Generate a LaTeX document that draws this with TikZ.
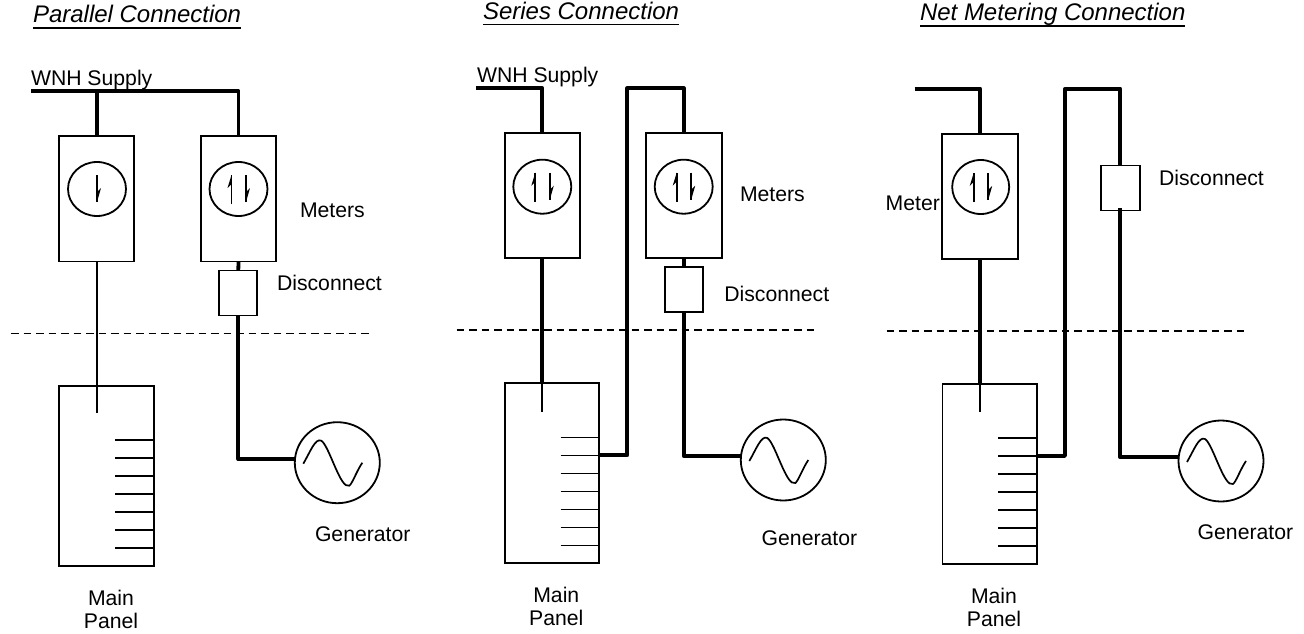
\documentclass[tikz,border=0pt]{standalone}
\usepackage{fontspec}
\setmainfont{Liberation Sans}
\usetikzlibrary{positioning,shapes.geometric}

\begin{document}
\begin{tikzpicture}[
		x=1pt, y=-1pt,
		every node/.style = {inner sep=0pt, outer sep=0pt, font=\fontsize{21.2}{24}\selectfont},
		label/.style = {anchor=base west},
		caption/.style = {anchor=base},
		heading/.style = {anchor=base west, font=\fontsize{24}{28}\selectfont\itshape},
		headrule/.style = {line width=1.9pt},
		meter/.style = {draw, line width=1.9pt, minimum width=75pt, minimum height=125.5pt},
		dial/.style = {draw, ellipse, line width=1.8pt, minimum width=58pt, minimum height=54pt},
		disc/.style = {draw, line width=1.9pt, minimum width=38pt, minimum height=45pt},
		panel/.style = {draw, line width=1.9pt, minimum width=94.5pt, minimum height=180pt},
		gen/.style = {draw, ellipse, line width=1.8pt, minimum width=85pt, minimum height=81pt},
		wire/.style = {line width=3.8pt, line join=round},
		thinwire/.style = {line width=1.7pt},
		mains/.style = {dashed, line width=1.6pt, dash pattern=on 7.5pt off 5pt},
		downhand/.pic = {\draw[line width=1.8pt] (0,-14) -- (0,13); \fill (0,13) -- (4,-1) -- (0,3) -- cycle;},
		uphand/.pic = {\draw[line width=1.8pt] (0,15) -- (0,-14); \fill (0,-14) -- (-4,-1) -- (0,-5) -- cycle;},
		wave/.pic = {\draw[line width=1.7pt] (-34,1) .. controls (-27,-11) and (-22,-25) .. (-16,-22) .. controls (-8,-17) and (3,27) .. (12,23) .. controls (15,21) and (19,9) .. (25,0);}
	]
	\useasboundingbox (0,0) rectangle (1304,634);

	% parallel
	\node[heading] (title1) at (33,22.7) {Parallel Connection};
	\draw[headrule] ([yshift=-5pt]title1.base west) -- ([yshift=-5pt]title1.base east);
	\node[meter] (meter1) at (96.8,198.7) {};
	\node[meter] (meter2) at (238.5,198.7) {};
	\node[dial] (dial1) at (97,189) {};
	\node[dial] (dial2) at (238.5,189) {};
	\node[disc] (disc1) at (238.3,293) {};
	\node[panel] (panel1) at (106.3,476.4) {};
	\node[gen] (gen1) at (337.3,462.7) {};
	\coordinate (feed1) at (31,91);
	\coordinate (tap1) at (96.8,413);
	\draw[wire] (feed1) -| (meter2.north);
	\draw[wire] (meter1.north |- feed1) -- (meter1.north);
	\draw[thinwire] (meter1.south) -- (tap1);
	\draw[wire] (meter2.south) -- (disc1.north);
	\draw[wire] (disc1.south) |- (gen1.175);
	\pic at (dial1) {downhand};
	\pic at ([xshift=-7pt]dial2.center) {uphand};
	\pic at ([xshift=7.5pt]dial2.center) {downhand};
	\pic at (gen1) {wave};
	\foreach \y in {440.3,458.3,...,549} \draw[thinwire] (115,\y) -- (153.5,\y);
	\draw[mains] (11,333.3) -- (369,333.3);
	\node[label] (supply1) at (31,85) {WNH Supply};
	\node[label] (meterlbl1) at (300,217) {Meters};
	\node[label] (disclbl1) at (277,290.7) {Disconnect};
	\node[label] (genlbl1) at (315,541.7) {Generator};
	\node[caption] (main1) at (111,605) {Main};
	\node[caption] (pnl1) at (111,628) {Panel};

	% series
	\node[heading] (title2) at (483,20) {Series Connection};
	\draw[headrule] ([yshift=-4.5pt]title2.base west) -- ([yshift=-4.5pt]title2.base east);
	\node[meter] (meter3) at (542.3,195.5) {};
	\node[meter, minimum width=76pt] (meter4) at (683.8,195.5) {};
	\node[dial] (dial3) at (542.3,186.7) {};
	\node[dial] (dial4) at (683.7,186.7) {};
	\node[disc] (disc2) at (683.8,289.8) {};
	\node[panel] (panel2) at (552,473.3) {};
	\node[gen] (gen2) at (783.3,460) {};
	\coordinate (feed2) at (476,88.3);
	\coordinate (tap2) at (542.3,411.7);
	\coordinate (loop2) at (627.3,88.3);
	\draw[wire] (feed2) -| (meter3.north);
	\draw[wire] (meter3.south) -- (meter3.south |- panel2.north);
	\draw[thinwire] (meter3.south |- panel2.north) -- (tap2);
	\draw[wire] (panel2.east |- 0,455.3) -| (loop2) -| (meter4.north);
	\draw[wire] (meter4.south) -- (disc2.north);
	\draw[wire] (disc2.south) |- (gen2.175);
	\pic at ([xshift=-7pt]dial3.center) {uphand};
	\pic at ([xshift=7.5pt]dial3.center) {downhand};
	\pic at ([xshift=-7pt]dial4.center) {uphand};
	\pic at ([xshift=7.5pt]dial4.center) {downhand};
	\pic at (gen2) {wave};
	\foreach \y in {437.5,455.5,...,546} \draw[thinwire] (560.7,\y) -- (599.3,\y);
	\draw[mains] (456.7,330) -- (814,330);
	\node[label] (supply2) at (477,82.7) {WNH Supply};
	\node[label] (meterlbl2) at (740,201.7) {Meters};
	\node[label] (disclbl2) at (724.3,301.7) {Disconnect};
	\node[label] (genlbl2) at (761.7,545.7) {Generator};
	\node[caption] (main2) at (556.3,602.3) {Main};
	\node[caption] (pnl2) at (556.3,625.7) {Panel};

	% net metering
	\node[heading] (title3) at (920,20.7) {Net Metering Connection};
	\draw[headrule] ([yshift=-5pt]title3.base west) -- ([yshift=-5pt]title3.base east);
	\node[meter, minimum width=76pt] (meter5) at (980.3,196.3) {};
	\node[dial, minimum width=57pt] (dial5) at (980.7,187) {};
	\node[disc, minimum width=38.7pt] (disc3) at (1120.3,188) {};
	\node[panel] (panel3) at (989.7,474) {};
	\node[gen] (gen3) at (1221,461) {};
	\coordinate (feed3) at (914.7,88.7);
	\coordinate (tap3) at (980.3,412);
	\coordinate (loop3) at (1065,88.7);
	\draw[wire] (feed3) -| (meter5.north);
	\draw[wire] (meter5.south) -- (meter5.south |- panel3.north);
	\draw[thinwire] (meter5.south |- panel3.north) -- (tap3);
	\draw[wire] (panel3.east |- 0,456) -| (loop3) -| (disc3.north);
	\draw[wire] ([yshift=2.5pt]disc3.south) |- (gen3.175);
	\pic at ([xshift=-7pt]dial5.center) {uphand};
	\pic at ([xshift=7.5pt]dial5.center) {downhand};
	\pic at (gen3) {wave};
	\foreach \y in {438,456,...,547} \draw[thinwire] (998.3,\y) -- (1037,\y);
	\draw[mains] (886.7,330.7) -- (1244.3,330.7);
	\node[label] (meterlbl3) at (885.7,210) {Meter};
	\node[label] (disclbl3) at (1159,185.7) {Disconnect};
	\node[label] (genlbl3) at (1197.7,539) {Generator};
	\node[caption] (main3) at (994,603.3) {Main};
	\node[caption] (pnl3) at (994,626.7) {Panel};
\end{tikzpicture}
\end{document}
